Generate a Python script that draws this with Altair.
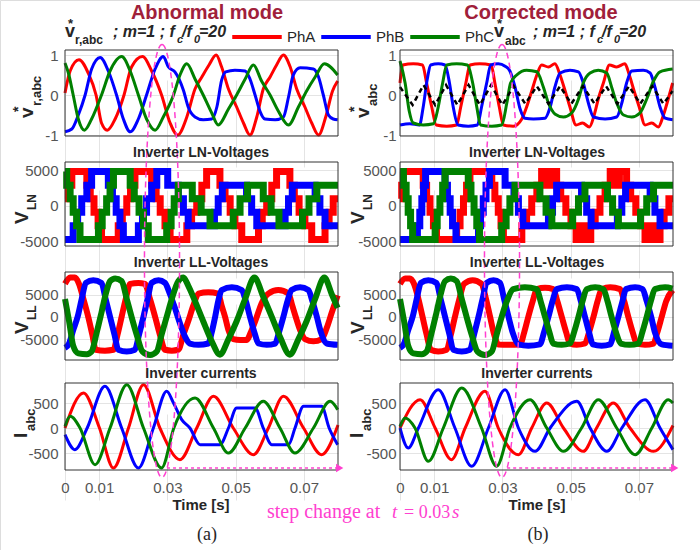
import altair as alt
import pandas as pd

W, H = 700, 550

# ---------------- data: (time [ms], value) ----------------
# reference voltages (left = abnormal, right = corrected)
REF_L_A = [(0,0.05),(1.5,0.6),(4.1,0.88),(6.8,0.55),(9.1,0),(10.7,-0.7),(12.4,-0.88),(14.7,-0.6),(17.3,0),(19.5,0.7),(22.7,0.96),(25.4,0.6),(28.3,0),(30.8,-0.7),(33.0,-1.0),(35.7,-0.55),(38.1,0.15),(40.1,0.45),(42.2,0.75),(44.3,1.0),(45.9,0.7),(47.9,0.15),(50.3,-0.3),(52.3,-0.7),(54.2,-1.0),(56.2,-0.55),(58.1,0.15),(60.1,0.45),(62.0,0.75),(64.0,1.0),(66.0,0.7),(67.9,0.15),(70.3,-0.3),(72.3,-0.7),(74.3,-1.0),(76.4,-0.55),(78.4,0.1),(79.9,0.35)]
REF_L_B = [(0,-0.92),(2.0,-0.85),(3.9,-0.5),(5.9,0),(7.8,0.65),(10.3,0.94),(12.7,0.6),(15.1,0),(17.1,-0.6),(19.1,-0.92),(21.5,-0.6),(23.9,0),(26.4,0.65),(28.8,0.96),(30.3,0.7),(32.2,0.58),(34.7,0.12),(36.1,-0.3),(38.1,-0.55),(40.5,-0.62),(43.0,-0.6),(44.5,-0.3),(45.9,0.37),(47.1,0.58),(49.8,0.62),(52.8,0.6),(54.2,0.4),(55.7,0),(57.2,-0.42),(58.6,-0.6),(61.6,-0.62),(64.0,-0.55),(65.5,-0.05),(66.9,0.5),(68.9,0.68),(72.8,0.65),(74.3,0.45),(75.7,0),(77.2,-0.5),(78.6,-0.6),(79.9,-0.62)]
REF_L_C = [(0,0.8),(1.0,0.55),(2.4,0),(3.9,-0.6),(5.7,-0.88),(7.8,-0.6),(10.7,0),(13.2,0.6),(16.6,0.96),(19.1,0.6),(21.5,0),(23.9,-0.6),(26.4,-0.88),(28.8,-0.55),(31.8,0),(33.7,0.5),(35.7,0.78),(38.1,0.4),(40.5,0),(43.0,-0.45),(44.9,-0.75),(47.9,-0.35),(50.3,0),(52.8,0.4),(55.2,0.75),(57.6,0.35),(60.1,0),(62.5,-0.4),(65.5,-0.75),(68.4,-0.3),(70.8,0.1),(73.3,0.45),(76.0,0.78),(79.9,0.5)]

REF_R_A = [(0,0.3),(0.8,0.75),(3.9,0.78),(6.6,0.75),(7.8,0.3),(9.3,-0.3),(10.6,-0.75),(13.7,-0.78),(16.6,-0.75),(17.8,-0.3),(19.3,0.3),(20.5,0.75),(23.4,0.78),(26.7,0.75),(27.8,0.3),(29.1,-0.3),(30.3,-0.75),(33.2,-0.78),(35.7,-0.6),(37.1,-0.3),(38.6,0.1),(40.1,0.5),(41.5,0.75),(43.5,0.7),(45.4,0.78),(46.9,0.5),(48.4,0.1),(49.8,-0.3),(51.6,-0.75),(53.5,-0.7),(55.5,-0.8),(56.9,-0.5),(58.1,-0.1),(59.6,0.3),(61.4,0.75),(63.5,0.7),(65.9,0.78),(67.2,0.5),(68.6,0.1),(70.1,-0.3),(71.8,-0.75),(73.8,-0.7),(75.7,-0.8),(77.2,-0.5),(78.6,-0.1),(79.9,0.3)]
REF_R_B = [(0,-0.75),(2.9,-0.72),(5.7,-0.75),(6.8,-0.3),(8.0,0.4),(9.0,0.75),(11.2,0.78),(13.2,0.75),(14.5,0.3),(15.6,-0.3),(17.0,-0.75),(20.0,-0.78),(22.7,-0.75),(23.9,-0.3),(25.4,0.3),(26.6,0.75),(28.8,0.78),(30.8,0.72),(32.2,0.6),(33.7,0.2),(35.2,-0.35),(36.6,-0.58),(39.1,-0.6),(42.5,-0.58),(44.0,-0.3),(45.4,0.2),(46.9,0.55),(49.8,0.62),(52.3,0.58),(53.7,0.3),(55.2,-0.2),(56.7,-0.55),(60.1,-0.6),(63.5,-0.55),(65.0,-0.2),(66.4,0.3),(67.9,0.6),(71.3,0.62),(73.3,0.55),(74.7,0.2),(76.2,-0.3),(77.7,-0.58),(79.9,-0.62)]
REF_R_C = [(0,0.85),(1.5,0.3),(2.7,-0.4),(3.9,-0.7),(6.8,-0.75),(9.8,-0.72),(11.2,-0.3),(12.5,0.3),(13.7,0.75),(16.6,0.78),(19.7,0.75),(21.3,0.3),(22.5,-0.3),(23.6,-0.75),(26.9,-0.78),(29.8,-0.75),(31.3,-0.2),(32.4,0.3),(34.2,0.5),(37.1,0.62),(40.1,0.58),(42.0,0.2),(43.5,-0.2),(45.5,-0.48),(47.9,-0.55),(50.3,-0.45),(52.3,-0.1),(53.7,0.3),(55.7,0.55),(58.1,0.62),(60.6,0.55),(62.0,0.2),(63.5,-0.2),(65.5,-0.5),(67.9,-0.55),(70.3,-0.45),(72.3,-0.1),(74.3,0.35),(76.2,0.58),(79.9,0.65)]
REF_R_ZERO = [(0,0.2),(3.7,-0.25),(6.9,0.25),(10.3,-0.25),(13.5,0.25),(16.8,-0.25),(20.1,0.25),(23.4,-0.25),(26.7,0.25),(30.0,-0.25),(33.3,0.22),(36.7,-0.22),(40.1,0.22),(43.5,-0.22),(46.9,0.22),(50.2,-0.22),(53.6,0.22),(57.0,-0.22),(60.4,0.22),(63.7,-0.22),(67.1,0.22),(70.4,-0.22),(73.9,0.22),(77.2,-0.22),(79.9,0.1)]

# line-to-neutral voltages (step levels)
LN_L_A = [(0,950),(1.0,2850),(2.0,4800),(6.4,2850),(7.4,950),(8.5,-950),(9.7,-2850),(10.7,-4800),(15.6,-2850),(16.8,-950),(18.1,950),(19.2,2850),(20.5,4800),(25.4,2850),(26.7,950),(27.9,-950),(29.3,-2850),(30.8,-4800),(35.7,-2850),(37.1,-950),(38.6,950),(40.1,2850),(41.5,4800),(45.4,2850),(46.9,950),(48.4,-950),(49.8,-2850),(51.8,-4800),(56.7,-2850),(57.8,-950),(59.1,950),(60.6,2850),(62.0,4800),(65.9,2850),(67.2,950),(68.6,-950),(70.3,-2850),(72.3,-4800),(76.2,-2850),(77.4,-950),(78.6,950),(80.0,950)]
LN_L_B = [(0,-4800),(2.4,-2850),(3.7,-950),(4.9,950),(6.4,2850),(7.8,4800),(12.7,2850),(13.9,950),(15.0,-950),(16.1,-2850),(17.1,-4800),(21.5,-2850),(22.7,-950),(23.9,950),(25.4,2850),(26.9,4800),(30.1,2850),(33.2,950),(34.7,-950),(36.1,-2850),(43.8,-950),(44.9,950),(46.1,2850),(53.2,950),(54.7,-950),(56.2,-2850),(64.5,-950),(65.5,950),(66.6,2850),(73.3,950),(74.7,-950),(76.2,-2850),(80.0,-2850)]
LN_L_C = [(0,4800),(0.5,2850),(1.5,950),(2.4,-950),(3.4,-2850),(4.4,-4800),(9.8,-2850),(10.9,-950),(12.2,950),(13.2,2850),(14.2,4800),(19.1,2850),(20.3,950),(21.7,-950),(23.0,-2850),(24.4,-4800),(29.8,-2850),(31.1,-950),(32.0,950),(33.2,2850),(37.3,950),(39.9,-950),(42.5,-2850),(49.3,-950),(51.3,950),(53.5,2850),(58.1,950),(60.4,-950),(62.7,-2850),(69.6,-950),(71.5,950),(73.8,2850),(80.0,2850)]
LN_R_A = [(0,950),(0.5,2850),(1.0,4800),(6.8,2850),(7.8,950),(8.8,-950),(9.8,-2850),(10.7,-4800),(16.6,-2850),(17.6,-950),(18.6,950),(19.5,2850),(20.5,4800),(26.9,2850),(27.8,950),(28.8,-950),(29.6,-2850),(30.3,-4800),(35.7,-2850),(37.1,-950),(38.6,950),(40.1,2850),(41.5,4800),(43.2,2850),(44.2,4800),(45.9,2850),(47.1,950),(48.6,-950),(50.1,-2850),(51.6,-4800),(53.2,-2850),(54.2,-4800),(55.9,-2850),(57.2,-950),(58.6,950),(60.1,2850),(61.6,4800),(63.3,2850),(64.3,4800),(66.4,2850),(67.6,950),(69.1,-950),(70.5,-2850),(71.8,-4800),(73.5,-2850),(74.4,-4800),(76.2,-2850),(77.4,-950),(78.8,950),(80.0,950)]
LN_R_B = [(0,-4800),(5.1,-2850),(5.8,-950),(6.4,950),(6.9,2850),(7.5,4800),(13.2,2850),(13.9,950),(14.7,-950),(15.4,-2850),(16.4,-4800),(23.0,-2850),(23.6,-950),(24.4,950),(25.2,2850),(26.2,4800),(30.8,2850),(33.4,950),(34.7,-950),(36.0,-2850),(43.5,-950),(44.7,950),(45.9,2850),(53.2,950),(54.7,-950),(56.0,-2850),(63.7,-950),(65.0,950),(66.1,2850),(73.3,950),(74.7,-950),(76.2,-2850),(80.0,-2850)]
LN_R_C = [(0,4800),(1.0,2850),(1.8,950),(2.4,-950),(3.1,-2850),(3.7,-4800),(10.3,-2850),(10.9,-950),(11.7,950),(12.5,2850),(13.2,4800),(20.0,2850),(20.8,950),(21.7,-950),(22.5,-2850),(23.3,-4800),(29.8,-2850),(31.1,-950),(32.2,950),(33.7,2850),(41.0,950),(42.8,-950),(44.5,-2850),(50.6,-950),(52.3,950),(54.2,2850),(60.8,950),(62.3,-950),(64.0,-2850),(70.5,-950),(72.3,950),(74.3,2850),(80.0,2850)]

# line-to-line voltages
LL_L_A = [(0,7400),(1.5,8800),(2.9,8800),(4.1,7400),(5.4,4000),(6.8,0),(8.0,-4000),(9.0,-7400),(11.7,-7600),(14.2,-7400),(15.4,-4000),(16.6,0),(17.8,4000),(19.1,7400),(21.5,7600),(23.4,7400),(24.9,4000),(26.4,0),(27.8,-4000),(29.3,-7400),(31.3,-7600),(33.2,-7400),(34.7,-4000),(36.1,-1000),(37.6,2500),(39.1,5200),(42.0,5500),(44.9,5200),(45.9,2500),(46.9,0),(47.9,-3000),(49.3,-5000),(51.3,-5200),(53.2,-5200),(54.7,-3000),(56.2,0),(57.6,3000),(59.6,5200),(62.5,6000),(65.5,5200),(66.6,2500),(67.6,0),(68.9,-3000),(70.3,-5000),(72.8,-5500),(75.2,-5000),(76.7,-2500),(78.2,1000),(79.9,4800)]
LL_L_B = [(0,-7000),(1.2,-6000),(2.4,-3000),(3.7,0),(4.9,4000),(6.1,7600),(8.3,8200),(10.7,7600),(11.9,4000),(13.2,0),(14.5,-4000),(15.6,-7400),(18.1,-7800),(20.5,-7400),(21.7,-4000),(23.0,0),(24.2,4000),(25.4,7600),(27.4,8200),(29.3,7600),(30.8,5000),(32.2,2000),(33.7,-1500),(35.2,-4500),(36.6,-6000),(39.1,-6300),(42.0,-6000),(43.0,-3500),(44.0,0),(44.9,3500),(45.9,6000),(48.9,6600),(51.8,6000),(53.0,3500),(54.2,0),(55.5,-3500),(56.7,-6000),(59.1,-6300),(61.6,-6000),(62.7,-3500),(64.0,0),(65.2,3500),(66.4,6000),(68.9,6600),(71.3,6000),(72.5,3500),(73.8,0),(75.0,-3500),(76.7,-6000),(79.9,-6300)]
LL_L_C = [(0,4000),(1.2,-1000),(2.4,-6500),(3.9,-8200),(6.4,-8400),(7.8,-7800),(9.3,-3500),(10.7,1000),(11.9,5000),(13.2,8000),(14.7,8600),(16.6,8000),(18.1,4000),(19.5,0),(21.0,-4000),(22.7,-7800),(24.9,-8600),(26.9,-7800),(28.3,-4000),(29.8,0),(31.3,4000),(33.2,8000),(34.7,8800),(36.1,7000),(38.1,3500),(40.5,-1000),(43.0,-5500),(45.4,-8500),(47.9,-5000),(50.3,-1000),(52.8,4000),(55.5,8800),(58.1,4500),(60.6,0),(63.0,-4500),(65.9,-8500),(68.4,-5000),(70.8,-1000),(73.3,4000),(76.0,8800),(78.2,5000),(79.9,2000)]
LL_R_A = [(0,7400),(1.5,8600),(2.9,8600),(4.1,7400),(5.4,4000),(6.6,0),(7.8,-4000),(9.0,-7400),(11.2,-7800),(13.7,-7400),(14.9,-4000),(16.1,0),(17.4,4000),(18.8,7400),(21.3,8200),(23.9,7400),(25.2,4000),(26.4,0),(27.6,-4000),(28.8,-6200),(31.8,-6300),(35.2,-6200),(36.4,-3500),(37.6,0),(38.9,3500),(40.1,6200),(42.5,6500),(44.9,6200),(46.1,3500),(47.4,0),(48.7,-3500),(49.8,-6000),(51.8,-6300),(54.2,-6000),(55.4,-3500),(56.7,0),(57.9,3500),(59.1,6200),(61.6,6600),(64.5,6200),(65.7,3500),(66.9,0),(68.2,-3500),(69.4,-6000),(71.8,-6300),(74.3,-6000),(75.4,-3500),(76.7,0),(78.0,3500),(79.9,6000)]
LL_R_B = [(0,-7000),(1.2,-6000),(2.4,-3000),(3.7,0),(4.9,4000),(6.1,7600),(8.3,8200),(10.7,7600),(11.9,4000),(13.2,0),(14.5,-4000),(15.6,-7400),(18.1,-7800),(20.5,-7400),(21.7,-4000),(23.0,0),(24.2,4000),(25.4,7600),(27.4,8200),(29.3,7600),(30.5,4000),(31.8,0),(33.0,-3500),(34.7,-6200),(37.6,-6500),(41.0,-6200),(42.2,-3500),(43.5,0),(44.7,3500),(45.9,6200),(48.9,6600),(51.8,6200),(53.0,3500),(54.2,0),(55.4,-3500),(56.5,-6200),(59.1,-6500),(61.6,-6200),(62.7,-3500),(64.0,0),(65.2,3500),(66.2,6200),(68.9,6600),(71.1,6200),(72.3,3500),(73.6,0),(74.7,-3500),(76.7,-6200),(79.9,-6500)]
LL_R_C = [(0,4000),(1.2,-1000),(2.4,-6500),(3.9,-8200),(6.4,-8400),(7.8,-7800),(9.3,-3500),(10.7,1000),(11.9,5000),(13.2,8000),(14.9,8600),(16.6,8000),(18.1,4000),(19.5,0),(21.0,-4000),(22.7,-7800),(24.9,-8600),(26.9,-7800),(28.3,-4000),(29.8,0),(31.3,3500),(33.2,6200),(36.6,6600),(40.1,6200),(41.2,3500),(42.5,0),(43.8,-3500),(44.9,-6000),(47.4,-6300),(49.8,-6000),(51.0,-3500),(52.3,0),(53.5,3500),(54.7,6200),(57.2,6600),(59.6,6200),(60.8,3500),(62.0,0),(63.3,-3500),(64.7,-6000),(67.2,-6300),(69.9,-6000),(71.0,-3500),(72.3,0),(73.5,3500),(74.7,6200),(77.7,6600),(79.9,6300)]

# inverter currents
CUR_L_A = [(0,0),(5.4,700),(10.1,0),(14.2,-800),(18.6,0),(23.0,867),(27.8,0),(33.7,-633),(38.6,0),(43.5,633),(49.3,0),(55.2,-533),(59.6,0),(64.0,633),(69.9,0),(75.2,-533),(80.0,60)]
CUR_L_B = [(0,-133),(2.9,-433),(6.5,0),(11.7,833),(16.6,0),(21.5,-800),(25.9,0),(29.8,733),(31.8,500),(34.2,167),(36.6,0),(39.6,-333),(45.4,-333),(47.9,0),(50.3,400),(55.7,400),(58.1,0),(60.6,-333),(65.5,-333),(67.4,0),(69.9,433),(75.2,433),(77.4,0),(79.9,-333)]
CUR_L_C = [(0,33),(1.5,233),(4.4,0),(8.8,-733),(13.2,0),(18.1,867),(23.0,0),(28.3,-800),(31.9,0),(38.1,600),(43.5,0),(47.9,-500),(52.8,0),(58.1,533),(63.0,0),(67.4,-500),(72.8,0),(77.7,533),(79.9,367)]
CUR_R_A = [(0,0),(5.9,567),(10.3,0),(15.1,-633),(19.1,0),(24.9,733),(28.8,0),(34.7,-533),(38.6,0),(43.0,500),(47.9,0),(53.7,-467),(57.6,0),(62.5,500),(67.4,0),(74.3,-467),(80.0,50)]
CUR_R_B = [(0,0),(2.4,-400),(5.4,0),(11.2,767),(16.1,0),(21.0,-767),(25.9,0),(30.8,767),(34.7,0),(39.6,-467),(44.0,0),(51.8,533),(55.7,0),(60.6,-467),(65.0,0),(71.8,567),(76.2,0),(80.0,-433)]
CUR_R_C = [(0,33),(1.5,200),(4.4,0),(8.3,-667),(12.7,0),(18.1,800),(23.9,0),(28.3,-767),(32.2,0),(38.1,567),(43.0,0),(47.9,-467),(53.2,0),(58.1,567),(63.5,0),(68.9,-533),(73.8,0),(78.6,567),(80.0,500)]

PHASES = ["PhA", "PhB", "PhC"]
COLORS = ["#ff0000", "#0000ff", "#008000"]
X_TICKS = [0, 0.01, 0.03, 0.05, 0.07]

FONT = "Liberation Sans"
SERIF = "Liberation Serif"
GRAY = "#555555"
DARK = "#262626"
MAG = "#ff40d0"
TITLE_RED = "#a0203a"


def frame_of(pairs, phase):
    return pd.DataFrame({"t": [p[0] / 1000.0 for p in pairs],
                         "v": [p[1] for p in pairs],
                         "phase": phase})


legend = alt.Legend(orient="none", legendX=230, legendY=10, direction="horizontal",
                    title=None, symbolType="stroke", symbolSize=2450,
                    symbolStrokeWidth=4, labelFontSize=15, labelColor=DARK,
                    labelFont=FONT, columnPadding=-3, gridAlign="none",
                    labelOffset=3, padding=0)
color = alt.Color("phase:N", scale=alt.Scale(domain=PHASES, range=COLORS), legend=legend)


def panel(series, x0, x1, ybot, ytop, ymin, ymax, yticks, interp, sw, xlabels, lpad,
          extra=None):
    xs = alt.Scale(domain=[0, 0.08], range=[x0, x1], nice=False, zero=False)
    ys = alt.Scale(domain=[ymin, ymax], range=[ybot, ytop], nice=False, zero=False)
    xa = alt.Axis(orient="bottom", offset=-(H - ybot), values=X_TICKS, labels=xlabels,
                  title=None, domain=False, ticks=False, tickSize=0, grid=True,
                  gridColor="#e4e4e4", labelPadding=10, labelFontSize=15,
                  labelColor=GRAY, labelFont=FONT, labelFlush=False,
                  labelExpr="datum.value + ''")
    ya = alt.Axis(orient="left", offset=-x0, values=yticks, title=None, domain=False,
                  ticks=False, tickSize=0, grid=True, gridColor="#e4e4e4",
                  labelPadding=lpad, labelFontSize=15, labelColor=GRAY, labelFont=FONT,
                  labelExpr="datum.value + ''")
    layers = []
    for pairs, ph in zip(series, PHASES):
        layers.append(
            alt.Chart(frame_of(pairs, ph)).mark_line(
                interpolate=interp, strokeWidth=sw, strokeJoin="miter", strokeCap="butt"
            ).encode(x=alt.X("t:Q", scale=xs, axis=xa),
                     y=alt.Y("v:Q", scale=ys, axis=ya),
                     color=color)
        )
    if extra is not None:
        layers.append(
            alt.Chart(frame_of(extra, "zero")).mark_line(
                strokeWidth=2.5, strokeDash=[5, 4], color="black"
            ).encode(x=alt.X("t:Q", scale=xs, axis=xa),
                     y=alt.Y("v:Q", scale=ys, axis=ya))
        )
    box = alt.Chart(pd.DataFrame({"t": [0.0], "t2": [0.08], "v": [ymin], "v2": [ymax]})).mark_rect(
        fillOpacity=0, stroke="#333333", strokeWidth=1
    ).encode(x=alt.X("t:Q", scale=xs, axis=xa), x2="t2:Q",
             y=alt.Y("v:Q", scale=ys, axis=ya), y2="v2:Q")
    layers.append(box)
    return alt.layer(*layers)


def annot(xs, ybot, ymin, ymax, t_start):
    """dotted arrow 'step change' along the bottom of the current panel"""
    sc_x = alt.Scale(domain=[0, 0.08], range=xs, nice=False, zero=False)
    sc_y = alt.Scale(domain=[ymin, ymax], range=[ybot, ybot - 87], nice=False, zero=False)
    arrow = alt.Chart(pd.DataFrame({"t": [t_start], "t2": [0.0805], "v": [-800]})).mark_rule(
        color=MAG, strokeWidth=1.5, strokeDash=[3, 3]
    ).encode(x=alt.X("t:Q", scale=sc_x, axis=None), x2="t2:Q",
             y=alt.Y("v:Q", scale=sc_y, axis=None))
    head = alt.Chart(pd.DataFrame({"t": [0.0805], "v": [-800]})).mark_point(
        shape="triangle-right", filled=True, color=MAG, size=70, opacity=1
    ).encode(x=alt.X("t:Q", scale=sc_x, axis=None),
             y=alt.Y("v:Q", scale=sc_y, axis=None))
    return alt.layer(arrow, head)


def T(s, x, y, size=14, weight="bold", style="normal", color=DARK, angle=0,
      font=FONT, align="left"):
    return alt.Chart(pd.DataFrame({"s": [s]})).mark_text(
        text=s, fontSize=size, fontWeight=weight, fontStyle=style, color=color,
        angle=angle, font=font, align=align, baseline="alphabetic"
    ).encode(x=alt.value(x), y=alt.value(y))


LX = (65, 338)
RX = (400, 673)
ROWS = {
    "ref": (136, 50, -1.025, 1.125, [-1, 0, 1]),
    "ln": (246, 162, -5704, 6127, [-5000, 0, 5000]),
    "ll": (360, 272, -9700, 10050, [-5000, 0, 5000]),
    "cur": (470, 383, -840, 900, [-500, 0, 500]),
}

panels = []
for side, (x0, x1), lpad, refs, zero in [
    ("L", LX, 7, [REF_L_A, REF_L_B, REF_L_C], None),
    ("R", RX, 4, [REF_R_A, REF_R_B, REF_R_C], REF_R_ZERO),
]:
    ln = [LN_L_A, LN_L_B, LN_L_C] if side == "L" else [LN_R_A, LN_R_B, LN_R_C]
    ll = [LL_L_A, LL_L_B, LL_L_C] if side == "L" else [LL_R_A, LL_R_B, LL_R_C]
    cu = [CUR_L_A, CUR_L_B, CUR_L_C] if side == "L" else [CUR_R_A, CUR_R_B, CUR_R_C]
    r = ROWS["ref"]
    panels.append(panel(refs, x0, x1, r[0], r[1], r[2], r[3], r[4], "monotone", 3, False, lpad, zero))
    r = ROWS["ln"]
    panels.append(panel(ln, x0, x1, r[0], r[1], r[2], r[3], r[4], "step-after", 7, False, lpad))
    r = ROWS["ll"]
    panels.append(panel(ll, x0, x1, r[0], r[1], r[2], r[3], r[4], "monotone", 6, False, lpad))
    r = ROWS["cur"]
    panels.append(panel(cu, x0, x1, r[0], r[1], r[2], r[3], r[4], "monotone", 3, True, lpad))

panels.append(annot(list(LX), 470, -840, 900, 0.0299))
panels.append(annot(list(RX), 470, -840, 900, 0.0314))

# dashed ellipses around the step instant
ELLIPSE = ("M0,-1 C0.0447,-1 0.081,-0.5523 0.081,0 C0.081,0.5523 0.0447,1 0,1 "
           "C-0.0447,1 -0.081,0.5523 -0.081,0 C-0.081,-0.5523 -0.0447,-1 0,-1 Z")
for cx in (162, 502):
    panels.append(
        alt.Chart(pd.DataFrame({"k": [0]})).mark_point(
            shape=ELLIPSE, size=433 * 433, filled=False, stroke=MAG, strokeWidth=1.5,
            strokeDash=[6, 4], opacity=1
        ).encode(x=alt.value(cx), y=alt.value(261))
    )

texts = [
    T("Abnormal mode", 207, 19, 20, color=TITLE_RED, align="center"),
    T("Corrected mode", 541, 19, 20, color=TITLE_RED, align="center"),
    # subtitle left
    T("v", 65, 37, 18), T("*", 68, 28, 13), T("r,abc", 75, 44, 12),
    T("; m=1 ; f", 113, 37, 16, style="italic"), T("c", 177, 43, 11, style="italic"),
    T("/f", 182, 37, 16, style="italic"), T("0", 194, 43, 11, style="italic"),
    T("=20", 199, 37, 16, style="italic"),
    # subtitle right
    T("v", 494, 37, 18), T("*", 497, 28, 13), T("abc", 505, 45, 12),
    T("; m=1 ; f", 533, 37, 16, style="italic"), T("c", 597, 43, 11, style="italic"),
    T("/f", 602, 37, 16, style="italic"), T("0", 614, 43, 11, style="italic"),
    T("=20", 619, 37, 16, style="italic"),
]
for cx in (201, 537):
    texts += [
        T("Inverter LN-Voltages", cx, 157, 14, align="center"),
        T("Inverter LL-Voltages", cx, 267, 14, align="center"),
        T("Inverter currents", cx, 378, 14, align="center"),
        T("Time [s]", cx, 510, 15, align="center"),
    ]
for dx in (0, 336):
    texts += [
        T("v", 33 + dx, 118, 19, angle=270), T("*", 23 + dx, 112, 14, angle=270),
        T("V", 28 + dx, 224, 19, angle=270), T("LN", 36 + dx, 210, 12, angle=270),
        T("V", 28 + dx, 334, 19, angle=270), T("LL", 36 + dx, 320, 12, angle=270),
        T("I", 27 + dx, 438, 19, angle=270), T("abc", 35 + dx, 431, 13, angle=270),
    ]
texts += [
    T("r,abc", 41, 106, 13, angle=270),
    T("abc", 377, 106, 13, angle=270),
    T("(a)", 207, 540, 18, weight="normal", font=SERIF, align="center"),
    T("(b)", 538, 540, 18, weight="normal", font=SERIF, align="center"),
    T("step change at", 267, 518, 20, weight="normal", font=SERIF, color=MAG),
    T("t", 392, 518, 19, weight="normal", style="italic", font=SERIF, color=MAG),
    T("= 0.03", 404, 518, 18, weight="normal", font=SERIF, color=MAG),
    T("s", 452, 518, 19, weight="normal", style="italic", font=SERIF, color=MAG),
]

chart = alt.layer(*panels, *texts).resolve_scale(
    x="independent", y="independent"
).properties(
    width=W, height=H, padding=0, autosize=alt.AutoSizeParams(type="none")
).configure_view(strokeWidth=0).configure(background="white")

chart.save("out.html", embed_options={"renderer": "svg", "actions": False})
